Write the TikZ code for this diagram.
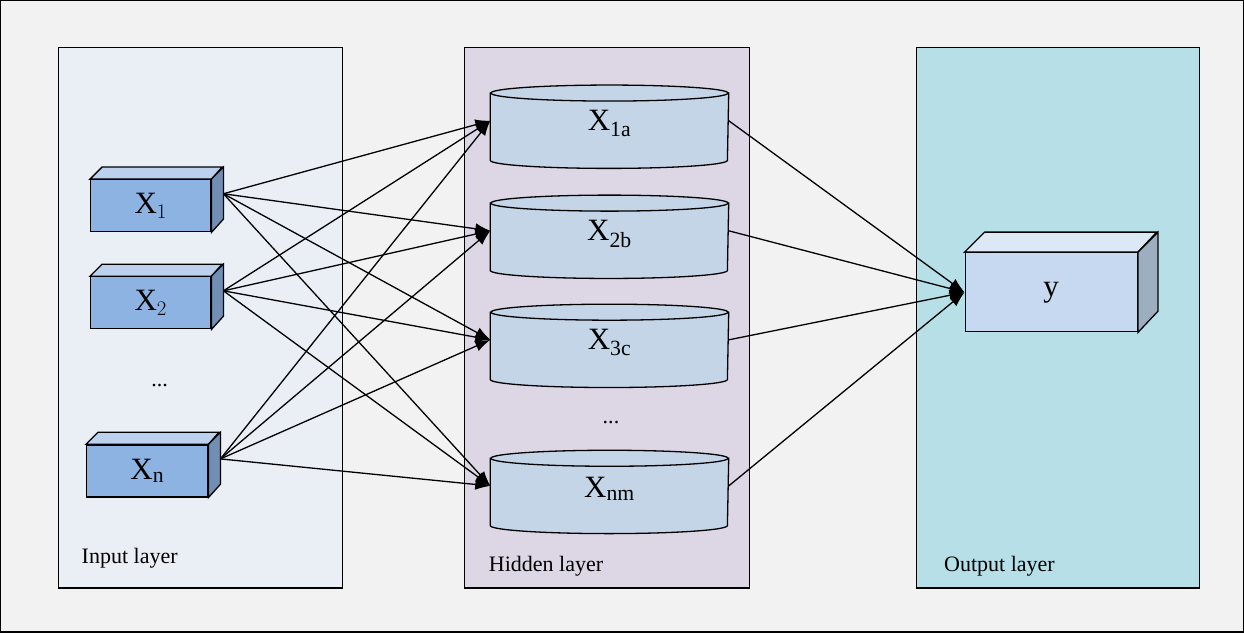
\documentclass[tikz,border=0pt]{standalone}
\usepackage{fontspec}
\setmainfont{Liberation Serif}
\usetikzlibrary{arrows.meta}
\definecolor{framebg}{HTML}{F2F2F2}
\definecolor{inbg}{HTML}{EAEFF6}
\definecolor{hidbg}{HTML}{DDD6E4}
\definecolor{outbg}{HTML}{B7DFE8}
\definecolor{cubein}{HTML}{8DB3E2}
\definecolor{cubeout}{HTML}{C6D9F1}
\definecolor{cylfill}{HTML}{C4D5E7}
% cube: name, centre, width, height, depth, fill, label
\newcommand\cubenode[7]{
  \node[cube,fill=#6,minimum width=#3,minimum height=#4] (#1) at #2 {#7};
  \draw[fill=#6!60!white] (#1.north west) -- ++(#5,-#5) -- ++(#3,0) -- (#1.north east) -- cycle;
  \draw[fill=#6!80!black] (#1.north east) -- ++(#5,-#5) -- ++(0,#4) -- (#1.south east) -- cycle;
  \coordinate (#1o) at ([shift={(#5,-#5)}]#1.east);
}
% cylinder: name, centre y, label
\newcommand\cylnode[3]{
  \node[cylbody] (#1) at (609.5,#2) {};
  \draw[fill=cylfill] (#1.north west) -- (#1.south west) arc[start angle=180,end angle=0,x radius=118.5,y radius=8] -- (#1.north east) -- cycle;
  \draw[fill=cylfill] (#1.north) ellipse[x radius=118.5,y radius=8];
  \node at ([yshift=3]#1.center) {#3};
}
\begin{document}
\begin{tikzpicture}[x=1pt,y=-1pt,line width=1.3pt,font=\fontsize{31}{33}\selectfont,
  panel/.style={draw,line width=1.1pt},
  cube/.style={draw,inner sep=0pt},
  cylbody/.style={minimum width=237,minimum height=66,inner sep=0pt,yshift=4},
  lbl/.style={anchor=west,font=\fontsize{22}{24}\selectfont},
  arr/.style={-{Latex[length=15pt,width=11pt]}}]
  \draw[fill=framebg] (1,1) rectangle (1243,632);
  \draw[panel,fill=inbg] (59,48) rectangle (343,588);
  \draw[panel,fill=hidbg] (465,48) rectangle (749,588);
  \draw[panel,fill=outbg] (916,48) rectangle (1199,588);

  \cubenode{x1}{(151,206)}{120}{52}{12}{cubein}{X$_{1}$}
  \cubenode{x2}{(151,303)}{120}{52}{12}{cubein}{X$_{2}$}
  \cubenode{xn}{(147.5,471)}{121}{52}{12}{cubein}{X$_{\mathrm{n}}$}
  \cubenode{y}{(1051,292.5)}{172}{79}{20}{cubeout}{y}

  \cylnode{h1}{131}{X$_{\mathrm{1a}}$}
  \cylnode{h2}{241}{X$_{\mathrm{2b}}$}
  \cylnode{h3}{350}{X$_{\mathrm{3c}}$}
  \cylnode{hm}{496}{X$_{\mathrm{nm}}$}

  \node[lbl,anchor=center] (dotsin) at (160,386) {...};
  \node[lbl,anchor=center] (dotshid) at (611,423) {...};
  \node[lbl] (lin) at (78,558) {Input layer};
  \node[lbl] (lhid) at (485,566) {Hidden layer};
  \node[lbl] (lout) at (940,566) {Output layer};

  \foreach \s in {x1,x2,xn}
    \foreach \t in {h1,h2,h3,hm}
      \draw[arr] (\s o) -- ([yshift=6]\t.west);
  \foreach \t in {h1,h2,h3,hm}
    \draw[arr] ([yshift=6]\t.east) -- (y.west);
\end{tikzpicture}
\end{document}
